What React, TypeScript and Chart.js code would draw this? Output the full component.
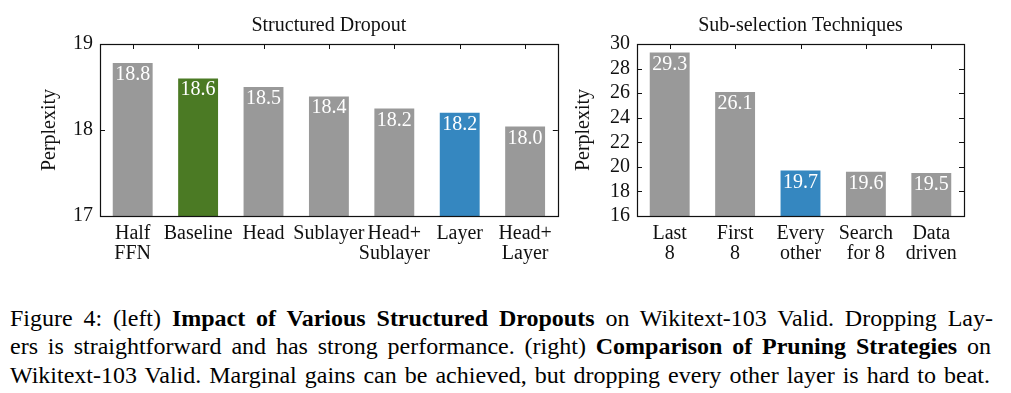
import React, { useEffect, useLayoutEffect, useRef } from 'react';
import { Chart, registerables } from 'chart.js';

Chart.register(...registerables);

const FONT = '"Liberation Serif", "Times New Roman", serif';
const GRAY = '#999999';
const GREEN = '#4b7a24';
const BLUE = '#3587c0';

// Left panel: Structured Dropout
const dropoutTitle = 'Structured Dropout';
const dropoutCategories = [['Half', 'FFN'], ['Baseline'], ['Head'], ['Sublayer'], ['Head+', 'Sublayer'], ['Layer'], ['Head+', 'Layer']];
const dropoutValues = [18.78, 18.6, 18.5, 18.39, 18.25, 18.2, 18.04];
const dropoutLabels = ['18.8', '18.6', '18.5', '18.4', '18.2', '18.2', '18.0'];
const dropoutColors = [GRAY, GREEN, GRAY, GRAY, GRAY, BLUE, GRAY];
const dropoutMin = 17;
const dropoutMax = 19;
const dropoutStep = 1;

// Right panel: Sub-selection Techniques
const subsetTitle = 'Sub-selection Techniques';
const subsetCategories = [['Last', '8'], ['First', '8'], ['Every', 'other'], ['Search', 'for 8'], ['Data', 'driven']];
const subsetValues = [29.3, 26.1, 19.7, 19.6, 19.5];
const subsetLabels = ['29.3', '26.1', '19.7', '19.6', '19.5'];
const subsetColors = [GRAY, GRAY, BLUE, GRAY, GRAY];
const subsetMin = 16;
const subsetMax = 30;
const subsetStep = 2;

const yAxisTitle = 'Perplexity';

const CANVAS_H = 290;
const PLOT_TOP = 44;
const PLOT_BOTTOM = 216;
const CAPTION_SIZE = 24;

type PanelCfg = {
  title: string;
  categories: string[][];
  values: number[];
  labels: string[];
  colors: string[];
  min: number;
  max: number;
  step: number;
  width: number;
  plotLeft: number;
  plotRight: number;
  yLabelX: number;
};

function makeDecor(cfg: PanelCfg) {
  return {
    id: 'decor',
    beforeDatasetsDraw(chart: any) {
      const { ctx, chartArea } = chart;
      const { left, right, top, bottom } = chartArea;
      const xs = chart.scales.x;
      const ys = chart.scales.y;
      ctx.save();
      ctx.strokeStyle = '#111';
      ctx.lineWidth = 1;
      ctx.beginPath();
      ys.ticks.forEach((t: any) => {
        const py = Math.round(ys.getPixelForValue(t.value)) + 0.5;
        ctx.moveTo(left, py);
        ctx.lineTo(left + 5, py);
        ctx.moveTo(right, py);
        ctx.lineTo(right - 5, py);
      });
      xs.ticks.forEach((_t: any, i: number) => {
        const px = Math.round(xs.getPixelForTick(i)) + 0.5;
        ctx.moveTo(px, top);
        ctx.lineTo(px, top + 5);
        ctx.moveTo(px, bottom);
        ctx.lineTo(px, bottom - 5);
      });
      ctx.stroke();
      ctx.restore();
    },
    afterDatasetsDraw(chart: any) {
      const { ctx, chartArea } = chart;
      const { left, right, top, bottom } = chartArea;
      ctx.save();
      // value labels
      const meta = chart.getDatasetMeta(0);
      ctx.fillStyle = '#ffffff';
      ctx.font = `20px ${FONT}`;
      ctx.textAlign = 'center';
      ctx.textBaseline = 'alphabetic';
      meta.data.forEach((bar: any, i: number) => {
        ctx.fillText(cfg.labels[i], bar.x, bar.y + 17);
      });
      // frame
      ctx.strokeStyle = '#111';
      ctx.lineWidth = 1.2;
      ctx.strokeRect(Math.round(left) + 0.5, Math.round(top) + 0.5, Math.round(right - left), Math.round(bottom - top));
      // title
      ctx.fillStyle = '#111';
      ctx.font = `20px ${FONT}`;
      ctx.textAlign = 'center';
      ctx.fillText(cfg.title, (left + right) / 2, 31);
      // y axis title
      ctx.translate(cfg.yLabelX, (top + bottom) / 2);
      ctx.rotate(-Math.PI / 2);
      ctx.fillText(yAxisTitle, 0, 0);
      ctx.restore();
    },
  };
}

function Panel({ cfg, left }: { cfg: PanelCfg; left: number }) {
  const ref = useRef<HTMLCanvasElement>(null);
  useEffect(() => {
    const canvas = ref.current!;
    const chart = new Chart(canvas, {
      type: 'bar',
      data: {
        labels: cfg.categories as any,
        datasets: [
          {
            data: cfg.values,
            backgroundColor: cfg.colors,
            borderWidth: 0,
            barPercentage: 0.61,
            categoryPercentage: 1,
          },
        ],
      },
      options: {
        animation: false,
        responsive: false,
        maintainAspectRatio: false,
        layout: { padding: { left: 0, right: cfg.width - cfg.plotRight, top: PLOT_TOP, bottom: 0 } },
        plugins: { legend: { display: false }, tooltip: { enabled: false }, title: { display: false } },
        scales: {
          x: {
            grid: { display: false, drawTicks: false },
            border: { display: false },
            ticks: {
              font: { family: FONT, size: 20, lineHeight: 1 },
              color: '#111',
              padding: 8,
              maxRotation: 0,
              minRotation: 0,
              autoSkip: false,
            },
            afterFit: (s: any) => {
              s.height = CANVAS_H - PLOT_BOTTOM;
            },
          },
          y: {
            min: cfg.min,
            max: cfg.max,
            grid: { display: false, drawTicks: false },
            border: { display: false },
            ticks: {
              stepSize: cfg.step,
              font: { family: FONT, size: 20, lineHeight: 1 },
              color: '#111',
              padding: 7,
            },
            afterFit: (s: any) => {
              s.width = cfg.plotLeft;
            },
          },
        },
      },
      plugins: [makeDecor(cfg)],
    });
    return () => chart.destroy();
  }, [cfg]);
  return (
    <canvas
      ref={ref}
      width={cfg.width}
      height={CANVAS_H}
      style={{ position: 'absolute', left, top: 0, width: cfg.width, height: CANVAS_H }}
    />
  );
}

const leftCfg: PanelCfg = {
  title: dropoutTitle,
  categories: dropoutCategories,
  values: dropoutValues,
  labels: dropoutLabels,
  colors: dropoutColors,
  min: dropoutMin,
  max: dropoutMax,
  step: dropoutStep,
  width: 560,
  plotLeft: 100,
  plotRight: 558,
  yLabelX: 55,
};

const rightCfg: PanelCfg = {
  title: subsetTitle,
  categories: subsetCategories,
  values: subsetValues,
  labels: subsetLabels,
  colors: subsetColors,
  min: subsetMin,
  max: subsetMax,
  step: subsetStep,
  width: 451,
  plotLeft: 77,
  plotRight: 404,
  yLabelX: 29,
};

function CaptionLine({ children, baseline, left, right }: { children: React.ReactNode; baseline: number; left: number; right: number }) {
  const ref = useRef<HTMLSpanElement>(null);
  useLayoutEffect(() => {
    const el = ref.current!;
    el.style.wordSpacing = '0px';
    el.style.transform = 'none';
    const natural = el.getBoundingClientRect().width;
    const target = right - left;
    const spaces = (el.textContent || '').split(' ').length - 1;
    if (natural < target && spaces > 0) {
      el.style.wordSpacing = `${(target - natural) / spaces}px`;
    } else if (natural > target) {
      el.style.transform = `scaleX(${target / natural})`;
    }
  }, []);
  return (
    <div
      style={{
        position: 'absolute',
        left,
        top: baseline - CAPTION_SIZE * 0.8375,
        whiteSpace: 'nowrap',
        fontFamily: FONT,
        fontSize: CAPTION_SIZE,
        lineHeight: `${CAPTION_SIZE}px`,
        color: '#000',
      }}
    >
      <span ref={ref} style={{ display: 'inline-block', transformOrigin: 'left center' }}>
        {children}
      </span>
    </div>
  );
}

export default function App() {
  return (
    <div style={{ position: 'absolute', left: 0, top: 0, width: 1011, height: 393, background: '#fff', overflow: 'hidden' }}>
      <Panel cfg={leftCfg} left={0} />
      <Panel cfg={rightCfg} left={560} />
      <CaptionLine baseline={326} left={10} right={993}>
        Figure 4: (left) <b>Impact of Various Structured Dropouts</b> on Wikitext-103 Valid. Dropping Lay-
      </CaptionLine>
      <CaptionLine baseline={354.5} left={10} right={991}>
        ers is straightforward and has strong performance. (right) <b>Comparison of Pruning Strategies</b> on
      </CaptionLine>
      <CaptionLine baseline={383} left={10} right={990}>
        Wikitext-103 Valid. Marginal gains can be achieved, but dropping every other layer is hard to beat.
      </CaptionLine>
    </div>
  );
}
